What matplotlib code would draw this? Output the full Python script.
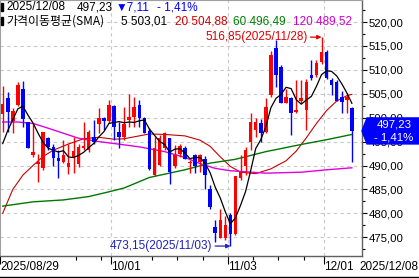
import matplotlib
matplotlib.use("Agg")
import matplotlib.pyplot as plt
import matplotlib.patches as patches
from matplotlib.ticker import MultipleLocator, FuncFormatter
import numpy as np
import pandas as pd

plt.rcParams["font.family"] = ["Liberation Sans", "Noto Sans CJK KR", "DejaVu Sans"]

# daily candles, 2025/08/29 .. 2025/12/08
opens = [500.8, 504.1, 499.4, 502.7, 505.9, 499.0, 492.1, 490.3, 489.4, 495.7,
         493.8, 491.5, 490.8, 489.6, 491.7, 490.3, 493.6, 493.2, 496.0, 498.7,
         500.0, 499.4, 502.4, 497.1, 495.9, 499.5, 500.1, 502.7, 499.9, 497.3,
         488.0, 490.1, 493.6, 495.7, 489.8, 492.4, 493.6, 490.5, 492.2, 490.8,
         491.4, 485.0, 477.2, 474.8, 474.8, 479.6, 475.7, 487.3, 489.8, 495.0,
         497.5, 498.8, 497.1, 504.7, 514.5, 510.7, 503.1, 504.1, 501.1, 503.4,
         501.6, 508.9, 508.9, 511.6, 513.8, 507.9, 507.5, 504.4, 503.7, 502.0]
highs = [506.6, 505.4, 502.0, 507.5, 507.7, 499.2, 498.8, 492.5, 497.1, 496.0,
         494.6, 493.2, 495.3, 494.6, 496.0, 494.6, 499.2, 497.4, 499.5, 502.0,
         500.1, 503.7, 502.7, 499.2, 502.3, 504.9, 504.4, 503.6, 500.1, 497.8,
         496.0, 496.4, 497.1, 495.7, 494.3, 494.6, 494.0, 491.2, 492.5, 492.5,
         492.0, 485.9, 478.7, 480.8, 479.4, 480.1, 487.9, 492.2, 493.9, 500.9,
         500.0, 499.7, 504.1, 514.0, 516.2, 511.0, 506.1, 504.4, 507.9, 507.9,
         508.0, 512.1, 512.1, 516.85, 514.2, 508.2, 507.9, 505.6, 505.1, 502.3]
lows = [497.0, 497.1, 496.7, 502.4, 498.1, 493.6, 491.8, 486.6, 489.0, 493.2,
        489.8, 487.3, 490.5, 488.2, 488.4, 489.6, 493.2, 492.9, 494.6, 496.7,
        497.4, 498.8, 495.3, 493.6, 495.3, 498.1, 498.1, 498.1, 496.7, 489.0,
        487.7, 489.8, 493.2, 486.1, 489.4, 491.8, 491.3, 488.4, 488.4, 488.7,
        485.0, 481.0, 474.1, 474.8, 474.4, 473.15, 475.5, 487.0, 488.0, 493.2,
        496.0, 495.0, 496.7, 504.4, 506.5, 503.0, 503.0, 496.4, 500.9, 503.0,
        497.4, 507.9, 508.6, 511.2, 508.0, 504.7, 503.4, 500.9, 500.9, 490.8]
closes = [502.9, 501.1, 501.5, 506.8, 499.7, 493.6, 492.8, 490.8, 497.1, 493.8,
          491.5, 490.9, 492.2, 490.6, 493.1, 493.8, 494.1, 497.1, 495.0, 499.9,
          499.3, 502.7, 498.1, 495.9, 498.7, 500.1, 502.2, 499.9, 496.7, 489.2,
          493.6, 495.8, 496.7, 488.7, 492.3, 494.1, 491.3, 490.8, 489.9, 492.2,
          488.1, 481.3, 475.8, 478.6, 477.6, 475.7, 487.7, 488.7, 493.2, 499.2,
          499.0, 496.9, 502.3, 513.1, 508.9, 503.1, 504.4, 500.9, 501.6, 504.1,
          507.5, 508.2, 511.4, 513.8, 508.2, 506.8, 503.5, 503.2, 504.34, 497.23]
prev_closes = [487.5, 490.0, 495.5, 497.0]  # closes before the window, for the 5-day average

# longer averages at some candles
ma20_idx = [0, 2, 4, 6, 8, 10, 13, 16, 19, 22, 24, 26, 29, 32, 36, 39, 41, 43, 45,
            47, 50, 53, 56, 58, 60, 62, 64, 66, 68, 69]
ma20_val = [480.0, 485.0, 488.0, 490.0, 491.9, 493.2, 494.5, 495.6, 495.9, 495.5,
            495.6, 496.0, 496.6, 496.5, 496.2, 495.3, 494.0, 491.8, 489.8,
            488.6, 488.3, 489.3, 491.0, 493.0, 495.8, 498.8, 501.5, 503.5, 504.6, 504.88]
ma60_idx = [0, 6, 12, 17, 21, 24, 29, 36, 41, 46, 52, 59, 64, 69]
ma60_val = [481.5, 482.4, 482.8, 483.5, 484.5, 485.3, 487.5, 489.1, 490.5, 491.3,
            492.9, 494.4, 495.4, 496.49]
ma120_idx = [0, 3, 6, 9, 15, 19, 22, 27, 32, 36, 39, 42, 45, 52, 59, 64, 69]
ma120_val = [499.1, 499.1, 498.8, 497.8, 495.7, 495.0, 494.6, 493.9, 492.9, 491.7,
             490.4, 489.4, 488.9, 488.4, 488.6, 489.1, 489.52]

date_ticks = [0, 22, 45, 64]
date_labels = ["2025/08/29", "10/01", "11/03", "12/01"]
monday_ticks = [15, 20, 30, 35, 40, 50, 55, 60]
last_date = "2025/12/08"

UP = "#FF0000"
DOWN = "#0000FF"

W, H = 419, 278
fig = plt.figure(figsize=(W / 100, H / 100), dpi=100)
ax = fig.add_axes([0, 22 / H, 362 / W, 256 / H])

n = len(closes)
x = np.arange(n)
o = np.array(opens); c = np.array(closes)
colors = [UP if cc >= oo else DOWN for oo, cc in zip(o, c)]

ax.vlines(x, lows, highs, colors=colors, linewidth=1.0, zorder=3)
body = np.maximum(np.abs(c - o), 0.15)
ax.bar(x, body, bottom=np.minimum(o, c), width=0.7, color=colors, linewidth=0, zorder=4)

# moving averages
all_closes = pd.Series(prev_closes + closes)
ma5 = all_closes.rolling(5).mean().to_numpy()[len(prev_closes):]
ax.plot(x, ma5, color="black", lw=0.9, zorder=5)
ax.plot(ma20_idx, ma20_val, color="#C80000", lw=0.8, zorder=2)
ax.plot(ma60_idx, ma60_val, color="#007800", lw=1.0, zorder=2)
ax.plot(ma120_idx, ma120_val, color="#E000E0", lw=1.0, zorder=2)

ax.set_xlim(-0.53, 71.0)
ax.set_ylim(471.07, 524.62)

# grid
ax.yaxis.set_major_locator(MultipleLocator(5))
ax.yaxis.set_minor_locator(MultipleLocator(2.5))
ax.grid(axis="y", which="major", color="#C8C8C8", linestyle=(0, (3, 3)), lw=0.8, zorder=0)
for t in date_ticks[1:]:
    ax.axvline(t - 0.5, color="#C8C8C8", linestyle=(0, (3, 3)), lw=0.8, zorder=0)

ax.yaxis.tick_right()
ax.yaxis.set_major_formatter(FuncFormatter(lambda v, p: f"{v:.2f}".replace(".", ",")))
ax.tick_params(axis="y", which="major", length=3.5, width=0.8, pad=1, labelsize=8.2, colors="black")
ax.tick_params(axis="y", which="minor", length=2, width=0.8)

ax.set_xticks([t - 0.5 for t in date_ticks])
ax.set_xticklabels(date_labels)
ax.set_xticks([t - 0.5 for t in monday_ticks], minor=True)
ax.tick_params(axis="x", which="major", length=6, width=0.8, pad=-2.5, labelsize=8.5)
ax.tick_params(axis="x", which="minor", length=3, width=0.8)
for lab in ax.get_xticklabels():
    lab.set_ha("left")

for side in ["left", "top"]:
    ax.spines[side].set_color("#A0A0A0")
for side in ["right", "bottom"]:
    ax.spines[side].set_color("#606060")
    ax.spines[side].set_linewidth(1.0)

# high / low markers
i_hi = int(np.argmax(highs)); i_lo = int(np.argmin(lows))
ax.annotate("516,85(2025/11/28)", xy=(i_hi, highs[i_hi]), xytext=(-10, 0),
            textcoords="offset points", ha="right", va="center", fontsize=8.5,
            color="#E00000",
            arrowprops=dict(arrowstyle="-|>", color="#E00000", lw=0.9,
                            mutation_scale=6, shrinkA=0, shrinkB=0))
ax.annotate("473,15(2025/11/03)", xy=(i_lo, lows[i_lo]), xytext=(-13, 0),
            textcoords="offset points", ha="right", va="center", fontsize=8.5,
            color="#2020C0",
            arrowprops=dict(arrowstyle="-|>", color="#2020C0", lw=0.9,
                            mutation_scale=6, shrinkA=0, shrinkB=0))

def fx(px):
    return px / W

def fy(py):
    return 1 - py / H

# header lines
fig.add_artist(patches.Rectangle((fx(1), fy(11)), 2 / W, 8 / H, transform=fig.transFigure, color="black"))
fig.add_artist(patches.Rectangle((fx(1), fy(25)), 2 / W, 8 / H, transform=fig.transFigure, color="black"))
fs = 8.5
fig.text(fx(6), fy(7), "2025/12/08", fontsize=fs, va="center")
fig.text(fx(77), fy(7), f"{closes[-1]:.2f}".replace(".", ","), fontsize=fs, va="center")
chg = closes[-1] - closes[-2]
fig.text(fx(116), fy(7), "▼" + f"{abs(chg):.2f}".replace(".", ","), fontsize=fs, va="center", color=DOWN)
fig.text(fx(157), fy(7), "- " + f"{abs(chg) / closes[-2] * 100:.2f}".replace(".", ",") + "%",
         fontsize=fs, va="center", color=DOWN)
fig.text(fx(6), fy(21), "가격이동평균(SMA)", fontsize=8.6, va="center",
         family=["Noto Sans CJK KR", "DejaVu Sans"])
fig.text(fx(121), fy(21), "5 " + f"{ma5[-1]:.2f}".replace(".", ","), fontsize=fs, va="center")
fig.text(fx(175), fy(21), "20 " + f"{ma20_val[-1]:.2f}".replace(".", ","), fontsize=fs, va="center", color="#D00000")
fig.text(fx(233), fy(21), "60 " + f"{ma60_val[-1]:.2f}".replace(".", ","), fontsize=fs, va="center", color="#008000")
fig.text(fx(293), fy(21), "120 " + f"{ma120_val[-1]:.2f}".replace(".", ","), fontsize=fs, va="center", color="#D000D0")

fig.text(fx(418), fy(267), last_date, fontsize=fs, va="center", ha="right")
fig.add_artist(plt.Line2D([0, 1], [fy(277), fy(277)], transform=fig.transFigure, color="black", lw=1))

# last price box on the axis
fig.canvas.draw()
disp = ax.transData.transform((ax.get_xlim()[1], closes[-1]))
yc = H - disp[1]
pts = [(362, yc), (367, yc - 13), (419, yc - 13), (419, yc + 13), (367, yc + 13)]
fig.add_artist(patches.Polygon([(fx(a), fy(b)) for a, b in pts], closed=True,
                               transform=fig.transFigure, color=DOWN, zorder=10))
fig.text(fx(394), fy(yc - 6), f"{closes[-1]:.2f}".replace(".", ","), fontsize=8.2,
         ha="center", va="center", color="white", zorder=11)
fig.text(fx(394), fy(yc + 6.5), "- " + f"{abs(chg) / closes[-2] * 100:.2f}".replace(".", ",") + "%",
         fontsize=8.2, ha="center", va="center", color="white", zorder=11)

fig.savefig("out.png", dpi=100)
